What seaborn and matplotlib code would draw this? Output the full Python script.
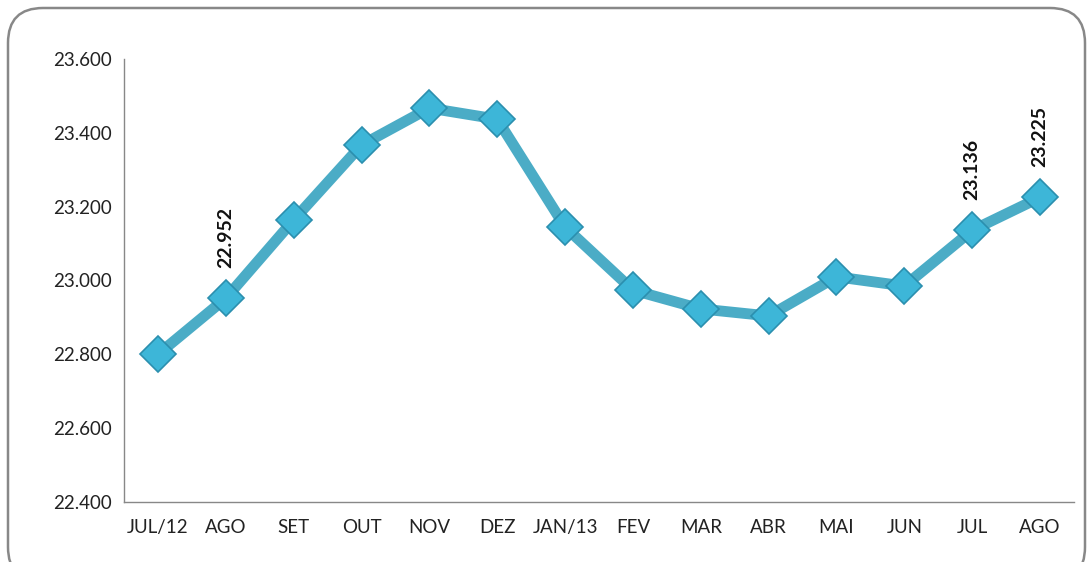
import matplotlib
matplotlib.use('Agg')
import matplotlib.pyplot as plt
from matplotlib.patches import FancyBboxPatch
import numpy as np
import seaborn as sns

# Data
months = ['JUL/12', 'AGO', 'SET', 'OUT', 'NOV', 'DEZ', 'JAN/13', 'FEV',
          'MAR', 'ABR', 'MAI', 'JUN', 'JUL', 'AGO']
values = [22800, 22952, 23164, 23367, 23467, 23437, 23145, 22974,
          22923, 22904, 23010, 22985, 23136, 23225]
labelled = [1, 12, 13]
y_ticks = [22400, 22600, 22800, 23000, 23200, 23400, 23600]

sns.set_style("white")
plt.rcParams['font.family'] = ['Lato', 'DejaVu Sans']

fig = plt.figure(figsize=(10.9, 5.62), dpi=100)
ax = fig.add_axes([0.1138, 0.1068, 0.8715, 0.7882])

x = np.arange(len(months))
line_color = '#4BACC6'
sns.lineplot(x=x, y=values, ax=ax, color=line_color, linewidth=7.8,
             marker='D', markersize=18, markerfacecolor='#3DB6D8',
             markeredgecolor='#2B8FAE', markeredgewidth=1.2)

for i in labelled:
    ax.annotate(f"{values[i]:,}".replace(',', '.'), (x[i], values[i]),
                xytext=(0, 22), textcoords='offset points', rotation=90,
                ha='center', va='bottom', fontsize=14, fontweight='bold',
                color='#111111')

ax.set_xlim(-0.5, len(months) - 0.5)
ax.set_ylim(22400, 23600)
ax.set_yticks(y_ticks)
ax.set_yticklabels([f"{v:,}".replace(',', '.') for v in y_ticks])
ax.set_xticks(x)
ax.set_xticklabels(months)
ax.set_xticks(np.arange(-0.5, len(months)), minor=True)
ax.tick_params(axis='x', which='major', length=0, pad=12, labelsize=13.5, colors='#222222')
ax.tick_params(axis='x', which='minor', length=6, color='#888888', width=1)
ax.tick_params(axis='y', length=5, labelsize=13.5, colors='#888888', labelcolor='#222222')

sns.despine(ax=ax)
for s in ['left', 'bottom']:
    ax.spines[s].set_color('#888888')
    ax.spines[s].set_linewidth(1)

# rounded frame around the chart
frame = FancyBboxPatch((0.08, -0.2), 10.77, 5.74,
                       boxstyle='round,pad=0,rounding_size=0.35',
                       transform=fig.dpi_scale_trans, fill=False,
                       edgecolor='#888888', linewidth=1.8)
fig.patches.append(frame)

fig.savefig('out.png', dpi=100)
